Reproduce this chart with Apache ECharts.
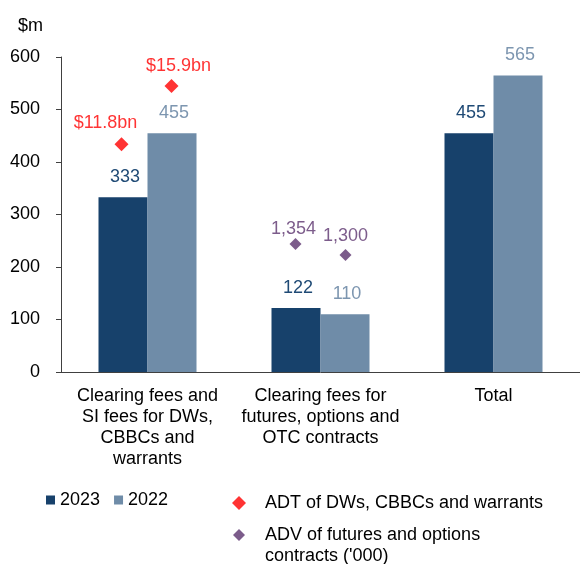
<!DOCTYPE html>
<html>
<head>
<meta charset="utf-8">
<script src="https://cdn.jsdelivr.net/npm/echarts@6/dist/echarts.min.js"></script>
<style>
  html, body { margin: 0; padding: 0; background: #fff; }
  #chart { width: 580px; height: 564px; }
</style>
</head>
<body>
<div id="chart"></div>
<script>
// data
const categories = [
  "Clearing fees and\nSI fees for DWs,\nCBBCs and\nwarrants",
  "Clearing fees for\nfutures, options and\nOTC contracts",
  "Total"
];
const fees2023 = [333, 122, 455];
const fees2022 = [455, 110, 565];
// diamonds are drawn against the $m axis, labels carry the real figure
const adt2023 = [434, "-", "-"];
const adt2022 = [545, "-", "-"];
const adtLabels2023 = ["$11.8bn", "", ""];
const adtLabels2022 = ["$15.9bn", "", ""];
const adv2023 = ["-", 244, "-"];
const adv2022 = ["-", 223, "-"];
const advLabels2023 = ["", "1,354", ""];
const advLabels2022 = ["", "1,300", ""];
const yTicks = [0, 100, 200, 300, 400, 500, 600];

const FONT = "Liberation Sans, Arial, sans-serif";
const DARK = "#17416B";
const LIGHT = "#6F8CA8";
const RED = "#FF0000";
const PURPLE = "#5B336E";
const ADT_NAME = "ADT of DWs, CBBCs and warrants";
const ADV_NAME = "ADV of futures and options contracts ('000)";

let chart = echarts.init(document.getElementById("chart"));

function diamondSeries(name, values, labels, color, size, offsetX, labelOffset, labelDist) {
  return {
    name: name,
    type: "scatter",
    symbol: "diamond",
    symbolSize: size,
    symbolOffset: [offsetX, 0],
    itemStyle: { color: color },
    data: values,
    label: {
      show: true,
      position: "top",
      distance: labelDist,
      offset: labelOffset,
      color: color,
      fontSize: 18,
      fontFamily: FONT,
      formatter: p => labels[p.dataIndex]
    },
    z: 5
  };
}

chart.setOption({
  backgroundColor: "#fff",
  animation: false,
  textStyle: { fontFamily: FONT },
  grid: { left: 61, right: -2, top: 57, bottom: 192 },
  xAxis: {
    type: "category",
    data: categories,
    axisLine: { lineStyle: { color: "#404040" } },
    axisTick: { inside: true, length: 5, lineStyle: { color: "#404040" } },
    axisLabel: {
      interval: 0,
      margin: 14,
      color: "#000",
      fontSize: 18,
      lineHeight: 21,
      fontFamily: FONT
    }
  },
  yAxis: {
    type: "value",
    min: 0,
    max: 600,
    interval: 100,
    name: "$m",
    nameLocation: "end",
    nameGap: 22,
    nameTextStyle: { color: "#000", fontSize: 18, fontFamily: FONT, align: "right", padding: [0, 18, 0, 0] },
    axisLine: { show: true, lineStyle: { color: "#404040" } },
    axisTick: { show: true, length: 5, lineStyle: { color: "#404040" } },
    splitLine: { show: false },
    axisLabel: {
      margin: 21,
      color: "#000",
      fontSize: 18,
      fontFamily: FONT,
      formatter: v => (yTicks.indexOf(v) >= 0 ? String(v) : "")
    }
  },
  legend: [
    {
      data: ["2023", "2022"],
      left: 46,
      top: 491,
      padding: 0,
      icon: "rect",
      itemWidth: 9,
      itemHeight: 9,
      itemGap: 14,
      textStyle: { color: "#000", fontSize: 18, fontFamily: FONT }
    },
    {
      data: [{ name: ADT_NAME, icon: "diamond" }],
      left: 232,
      top: 494,
      padding: 0,
      itemWidth: 14,
      itemHeight: 14,
      textStyle: { color: "#000", fontSize: 18, fontFamily: FONT, padding: [0, 0, 0, 14] }
    },
    {
      data: [{ name: ADV_NAME, icon: "diamond" }],
      left: 233,
      top: 526,
      padding: 0,
      itemWidth: 12,
      itemHeight: 12,
      formatter: () => "ADV of futures and options",
      textStyle: { color: "#000", fontSize: 18, fontFamily: FONT, padding: [0, 0, 0, 15] }
    }
  ],
  // second line of the ADV legend entry
  graphic: [
    {
      type: "text",
      left: 265,
      top: 547,
      style: { text: "contracts ('000)", fill: "#000", fontSize: 18, fontFamily: FONT }
    }
  ],
  series: [
    {
      name: "2023",
      type: "bar",
      data: fees2023,
      barWidth: 49,
      barGap: "0%",
      itemStyle: { color: DARK },
      label: { show: true, position: "top", distance: 11, offset: [2, 0], color: "#1F4A75", fontSize: 18, fontFamily: FONT }
    },
    {
      name: "2022",
      type: "bar",
      data: fees2022,
      barWidth: 49,
      itemStyle: { color: LIGHT },
      label: { show: true, position: "top", distance: 11, offset: [2, 0], color: "#7D96B0", fontSize: 18, fontFamily: FONT }
    },
    diamondSeries(ADT_NAME, adt2023, adtLabels2023, RED, 14, -26, [-16, 0], 5),
    diamondSeries(ADT_NAME, adt2022, adtLabels2022, RED, 14, 24, [7, 0], 4),
    diamondSeries(ADV_NAME, adv2023, advLabels2023, PURPLE, 12, -25, [-2, 0], 0),
    diamondSeries(ADV_NAME, adv2022, advLabels2022, PURPLE, 12, 25, [0, 0], 4)
  ]
});
</script>
</body>
</html>
